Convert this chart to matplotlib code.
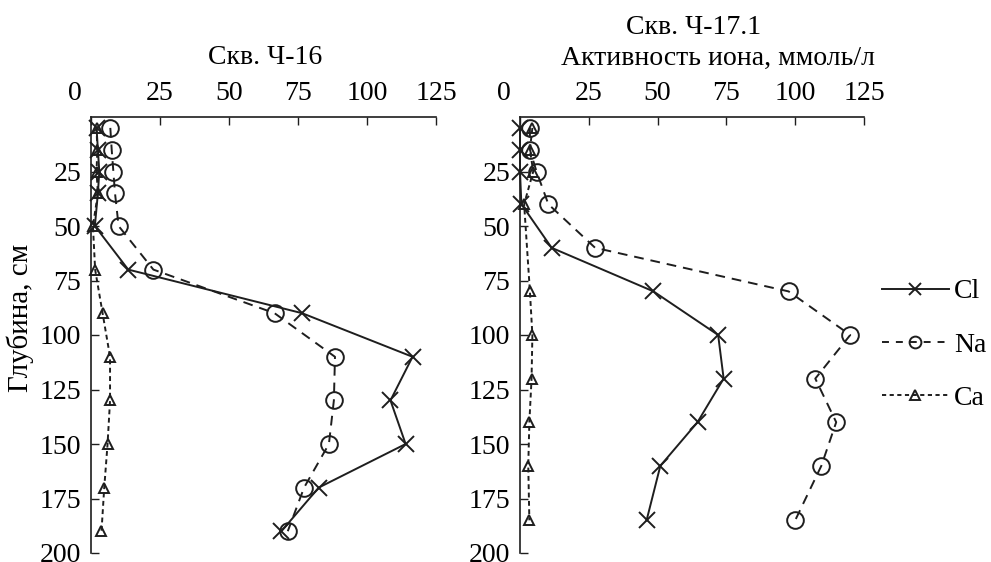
import numpy as np
import matplotlib.pyplot as plt
from matplotlib.lines import Line2D

plt.rcParams['font.family'] = ['Liberation Serif', 'DejaVu Serif']
plt.rcParams['lines.scale_dashes'] = False

# Скв. Ч-16
depth16 = [5, 15, 25, 35, 50, 70, 90, 110, 130, 150, 170, 190]
cl16 = [2, 2.5, 3, 2.5, 1.4, 13.5, 76.5, 116.5, 108.5, 114, 82.5, 69]
na16 = [7, 7.5, 8.1, 8.7, 10, 22.6, 66.5, 88.4, 88, 86.2, 77.2, 71.3]
ca16 = [2, 2.3, 2, 2.5, 0.7, 1.5, 4.2, 6.9, 6.9, 6, 4.8, 3.8]

# Скв. Ч-17.1
depth17 = [5, 15, 25, 40, 60, 80, 100, 120, 140, 160, 185]
cl17 = [0, 0, 0, 0.5, 11.5, 48.5, 72, 74, 64.5, 51, 46]
na17 = [3.6, 3.6, 6, 10.3, 27.3, 97.6, 120, 107.3, 114.9, 109.5, 100]
depth17_ca = [5, 15, 25, 40, 80, 100, 120, 140, 160, 185]
ca17 = [4.5, 3.6, 4.8, 1.5, 3.6, 4.5, 4.2, 3.4, 3, 3.4]

xticks = [0, 25, 50, 75, 100, 125]
yticks = [25, 50, 75, 100, 125, 150, 175, 200]
col = '#1e1e1e'
fs = 20
lw = 1.4

fig = plt.figure(figsize=(9.91, 5.62), dpi=100)
ax1 = fig.add_axes([91/991, 9/562, 345/991, 436/562])
ax2 = fig.add_axes([520/991, 9/562, 344/991, 436/562])

panels = [(ax1, depth16, cl16, na16, depth16, ca16),
          (ax2, depth17, cl17, na17, depth17_ca, ca17)]

for ax, d, cl, na, dca, ca in panels:
    ax.plot(cl, d, color=col, lw=lw, marker='x', ms=12, mew=lw, clip_on=False)
    ax.plot(na, d, color=col, lw=lw, dashes=(7, 5), marker='o', ms=12,
            mfc='none', mew=lw, clip_on=False)
    ax.plot(ca, dca, color=col, lw=lw, dashes=(3.5, 2.5), marker='^', ms=7.5,
            mfc='none', mew=lw, clip_on=False)

    ax.set_xlim(0, 125)
    ax.set_ylim(200, 0)
    ax.xaxis.tick_top()
    ax.set_xticks(xticks, [''] + [str(t) for t in xticks[1:]])
    ax.set_yticks(yticks)
    ax.tick_params(direction='in', length=6, width=1, colors=col,
                   labelsize=fs, labelcolor='black', pad=7)
    ax.tick_params(axis='x', pad=8)
    ax.spines['right'].set_visible(False)
    ax.spines['bottom'].set_visible(False)
    for s in ['top', 'left']:
        ax.spines[s].set_color(col)
        ax.spines[s].set_linewidth(1.2)
    # zero label sits left of the spine
    ax.annotate('0', xy=(0, 1), xycoords='axes fraction', xytext=(-7, 8),
                textcoords='offset points', ha='right', va='bottom', fontsize=fs)

fig.text(265/991, 1 - 58/562, 'Скв. Ч-16', ha='center', va='center', fontsize=fs)
fig.text(694/991, 1 - 27/562, 'Скв. Ч-17.1', ha='center', va='center', fontsize=fs)
fig.text(718/991, 1 - 58/562, 'Активность иона, ммоль/л', ha='center',
         va='center', fontsize=fs)
fig.text(20/991, 1 - 318/562, 'Глубина, см', ha='center', va='center',
         rotation=90, fontsize=21)

handles = [
    Line2D([], [], color=col, lw=lw, marker='x', ms=8.5, mew=lw),
    Line2D([], [], color=col, lw=lw, dashes=(5, 5), marker='o', ms=8.5,
           mfc='none', mew=lw),
    Line2D([], [], color=col, lw=lw, dashes=(3, 2.5), marker='^', ms=7.5,
           mfc='none', mew=lw),
]
fig.legend(handles, ['Cl', 'Na', 'Ca'], loc='center left',
           bbox_to_anchor=(882/991, 1 - 345/562), frameon=False, fontsize=fs,
           handlelength=2.4, handletextpad=0.2, labelspacing=1.0,
           borderpad=0, borderaxespad=0)

fig.savefig('out.png', dpi=100)
